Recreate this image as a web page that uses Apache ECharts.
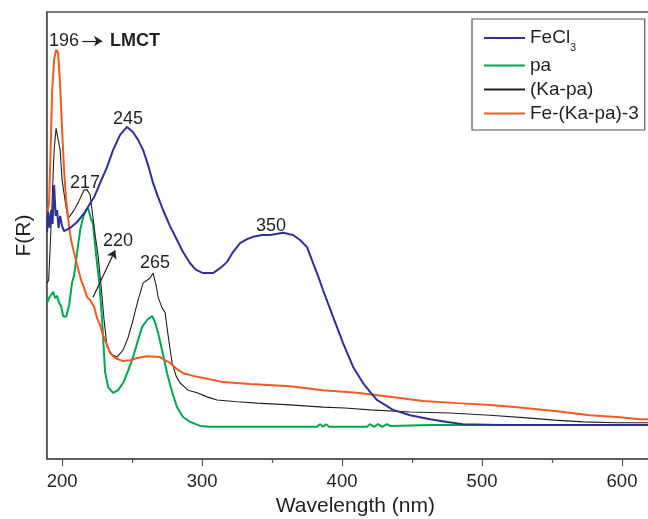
<!DOCTYPE html>
<html>
<head>
<meta charset="utf-8">
<script src="https://cdn.jsdelivr.net/npm/echarts@6/dist/echarts.min.js"></script>
<style>
  html, body { margin: 0; padding: 0; background: #fff; }
  #chart { width: 648px; height: 519px; }
</style>
</head>
<body>
<div id="chart"></div>
<script>
// wavelength (nm) vs F(R)
const majorTicks = [200, 300, 400, 500, 600]
const minorTicks = [250, 350, 450, 550]
const seriesNames = ['FeCl3', 'pa', '(Ka-pa)', 'Fe-(Ka-pa)-3']

const fecl3 = [
  [189.3, 50.8], [190.0, 55.3], [191.1, 51.7], [192.1, 55.7], [193.2, 52.6], [194.3, 61.3],
  [195.4, 54.4], [196.4, 55.7], [197.5, 51.7], [198.6, 54.4], [200.0, 52.1], [201.4, 51.0],
  [205.7, 51.7], [210.7, 53.0], [216.4, 55.3], [222.9, 58.6], [227.1, 61.7], [232.1, 65.3],
  [236.4, 69.1], [241.4, 72.5], [246.4, 74.3], [250.7, 73.1], [254.3, 71.4], [257.9, 69.1],
  [261.4, 65.8], [265.0, 61.7], [268.6, 58.6], [272.1, 55.7], [277.1, 52.1], [282.1, 49.0],
  [286.4, 46.3], [291.4, 43.8], [295.7, 42.3], [300.7, 41.6], [307.9, 41.6], [312.9, 42.7],
  [317.9, 44.1], [322.1, 46.3], [327.1, 48.3], [332.1, 49.2], [336.4, 49.7], [342.9, 50.1],
  [348.6, 50.1], [357.9, 50.6], [365.0, 50.1], [370.0, 49.0], [375.0, 47.4], [379.3, 43.8],
  [382.9, 40.9], [386.4, 37.8], [393.6, 31.8], [400.7, 25.9], [407.9, 20.6], [415.0, 17.0],
  [420.0, 15.0], [425.0, 13.2], [430.7, 12.1], [436.4, 11.0], [448.6, 9.8], [462.9, 8.9],
  [475.0, 8.3], [486.4, 7.8], [512.9, 7.6], [555.7, 7.6], [620, 7.6]
]

const pa = [
  [189.3, 34.9], [190.7, 36.0], [192.1, 35.6], [193.6, 37.4], [195.0, 36.0], [196.4, 36.5],
  [197.9, 34.9], [199.3, 34.2], [200.7, 32.0], [202.9, 31.8], [205.0, 34.4], [207.1, 39.4],
  [208.6, 41.2], [210.7, 46.1], [212.9, 51.2], [215.0, 54.1], [217.1, 55.7], [218.6, 56.1],
  [220.7, 53.7], [222.1, 52.6], [224.3, 45.6], [226.4, 40.0], [228.6, 31.1], [230.7, 19.5],
  [232.9, 16.1], [236.4, 14.8], [240.0, 15.4], [243.6, 17.0], [247.1, 19.7], [250.7, 22.8],
  [254.3, 26.6], [257.1, 29.5], [260.7, 31.1], [264.3, 32.0], [266.4, 30.6], [268.6, 28.2],
  [271.4, 24.4], [275.0, 19.2], [278.6, 15.0], [282.1, 11.6], [286.4, 9.4], [291.4, 8.3],
  [298.6, 7.4], [305.7, 7.2], [382.1, 7.2], [384.3, 7.8], [386.4, 7.2], [388.6, 7.8],
  [390.7, 7.2], [417.9, 7.2], [420.0, 7.8], [422.9, 7.2], [425.7, 7.8], [428.6, 7.2],
  [432.1, 7.8], [434.3, 7.4], [462.9, 7.6], [620, 7.6]
]

const kaPa = [
  [189.3, 39.4], [190.4, 40.0], [191.4, 46.8], [192.9, 57.9], [194.3, 69.1], [195.7, 74.0],
  [197.1, 74.3], [198.6, 69.1], [200.0, 62.4], [202.1, 57.9], [203.6, 54.8], [205.0, 54.1],
  [207.1, 55.0], [209.3, 56.1], [211.4, 57.3], [213.6, 58.8], [215.7, 60.2], [217.9, 60.2],
  [220.0, 59.1], [221.4, 55.7], [223.6, 50.1], [225.7, 45.6], [227.9, 38.5], [230.0, 31.1],
  [232.1, 25.1], [235.7, 23.3], [239.3, 22.8], [243.6, 24.4], [247.1, 27.1], [250.7, 31.1],
  [254.3, 35.6], [257.9, 39.4], [260.7, 40.0], [262.9, 40.5], [265.0, 41.6], [267.1, 38.9],
  [268.6, 36.2], [271.4, 33.8], [273.6, 32.7], [275.7, 27.7], [278.6, 21.5], [281.4, 18.6],
  [284.3, 17.0], [290.0, 15.4], [296.4, 14.8], [303.6, 13.9], [310.7, 13.2], [325.0, 12.8],
  [339.3, 12.5], [362.9, 12.1], [386.4, 11.6], [402.1, 11.4], [420.0, 11.0], [448.6, 10.5],
  [477.1, 10.3], [505.7, 9.8], [532.1, 9.2], [552.1, 8.7], [572.1, 8.3], [596.4, 8.1], [620, 8.1]
]

const feKaPa3 = [
  [189.3, 54.6], [190.7, 57.3], [191.8, 69.1], [192.9, 82.5], [194.3, 89.3], [195.7, 91.5],
  [197.1, 91.0], [198.6, 83.7], [200.0, 73.6], [201.4, 64.6], [202.9, 57.9], [205.0, 51.9],
  [206.4, 49.0], [208.6, 46.1], [210.7, 43.4], [213.6, 40.0], [215.7, 38.3], [217.9, 36.2],
  [220.0, 35.6], [222.9, 34.0], [225.0, 31.5], [227.1, 30.0], [229.3, 27.7], [232.1, 25.5],
  [234.3, 23.7], [237.9, 22.6], [243.6, 21.9], [248.6, 22.1], [253.6, 22.6], [260.7, 23.0],
  [270.0, 22.8], [273.6, 22.1], [277.1, 21.5], [282.1, 20.1], [286.4, 19.2], [293.6, 18.6],
  [300.7, 18.1], [307.9, 17.7], [315.0, 17.2], [334.3, 16.8], [362.9, 16.3], [386.4, 15.4],
  [410.7, 14.8], [434.3, 13.9], [457.9, 13.0], [482.1, 12.5], [505.7, 12.1], [525.0, 11.6],
  [553.6, 10.7], [577.1, 9.8], [596.4, 9.4], [612.9, 8.9], [620, 8.9]
]

// peak annotations, anchored in data units [nm, F(R)]
const noteTexts = ['196', 'LMCT', '217', '245', '220', '265', '350']
const noteAnchors = [
  [201.4, 93.5], [252.1, 93.5], [216.4, 61.7], [247.1, 76.1], [240.0, 48.8], [266.4, 43.8], [349.3, 52.1]
]
const arrowEnds = [
  [[214.3, 93.5], [228.6, 93.5]],
  [[222.1, 36.2], [237.9, 46.7]]
]

const FONT = 'Liberation Sans, Arial, Helvetica, sans-serif'
const INK = '#231f20'
const AXIS = '#555555'

function lineSeries(name, data, color, width) {
  return {
    name, type: 'line', data,
    symbol: 'none', showSymbol: false,
    lineStyle: { color, width },
    itemStyle: { color },
    animation: false
  }
}

const chart = echarts.init(document.getElementById('chart'), null, { renderer: 'canvas' })

chart.setOption({
  backgroundColor: '#fff',
  animation: false,
  grid: {
    left: 46.7, top: 12, right: -2, bottom: 60,
    outerBoundsMode: 'none', containLabel: false,
    show: true, borderColor: AXIS, borderWidth: 1.5, backgroundColor: 'transparent'
  },
  legend: {
    data: seriesNames.map(n => ({ name: n, icon: 'rect' })),
    orient: 'vertical',
    left: 472, top: 19,
    padding: [4, 6, 5, 12],
    itemWidth: 41, itemHeight: 2, itemGap: 1,
    borderColor: AXIS, borderWidth: 1.2, borderRadius: 0,
    backgroundColor: '#fff',
    formatter: n => n === 'FeCl3' ? 'FeCl{sub|3}' : n,
    textStyle: {
      fontFamily: FONT, fontSize: 19, color: INK, lineHeight: 23,
      rich: { sub: { fontFamily: FONT, fontSize: 11, color: INK, lineHeight: 30, verticalAlign: 'bottom' } }
    }
  },
  xAxis: [
    {
      type: 'value', min: 189, max: 620, position: 'bottom',
      name: 'Wavelength (nm)', nameLocation: 'middle', nameGap: 37,
      nameTextStyle: { fontFamily: FONT, fontSize: 21, color: INK, padding: [0, 0, 0, 14] },
      axisLine: { show: true, onZero: false, lineStyle: { color: AXIS, width: 1.5 } },
      axisTick: { show: true, customValues: majorTicks, length: 7, lineStyle: { color: AXIS, width: 1.2 } },
      axisLabel: { show: true, customValues: majorTicks, margin: 13, fontFamily: FONT, fontSize: 18.5, color: INK },
      splitLine: { show: false }
    },
    {
      type: 'value', min: 189, max: 620, position: 'bottom',
      axisLine: { show: false },
      axisTick: { show: true, customValues: minorTicks, length: 4, lineStyle: { color: AXIS, width: 1.2 } },
      axisLabel: { show: false },
      splitLine: { show: false }
    }
  ],
  yAxis: {
    type: 'value', min: 0, max: 100,
    name: 'F(R)', nameLocation: 'middle', nameGap: 12,
    nameTextStyle: { fontFamily: FONT, fontSize: 21, color: INK },
    axisLine: { show: true, lineStyle: { color: AXIS, width: 1.5 } },
    axisTick: { show: false },
    axisLabel: { show: false },
    splitLine: { show: false }
  },
  series: [
    lineSeries('pa', pa, '#00a651', 2),
    lineSeries('(Ka-pa)', kaPa, INK, 1.1),
    lineSeries('Fe-(Ka-pa)-3', feKaPa3, '#f15a24', 2),
    lineSeries('FeCl3', fecl3, '#2e3192', 2),
    {
      name: 'notes', type: 'line', data: [], silent: true, animation: false,
      markPoint: {
        symbol: 'circle', symbolSize: 1, silent: true, animation: false,
        itemStyle: { color: 'transparent' },
        label: { show: true, position: 'inside', formatter: p => p.name, fontFamily: FONT, fontSize: 18, color: INK },
        data: noteTexts.map((t, i) => ({
          name: t, coord: noteAnchors[i],
          label: t === 'LMCT' ? { fontWeight: 'bold' } : {}
        }))
      },
      markLine: {
        silent: true, animation: false,
        symbol: ['none', 'arrow'], symbolSize: 8,
        lineStyle: { color: INK, width: 1.2, type: 'solid' },
        label: { show: false },
        data: arrowEnds.map(([a, b]) => [{ coord: a }, { coord: b }])
      }
    }
  ]
})
</script>
</body>
</html>
